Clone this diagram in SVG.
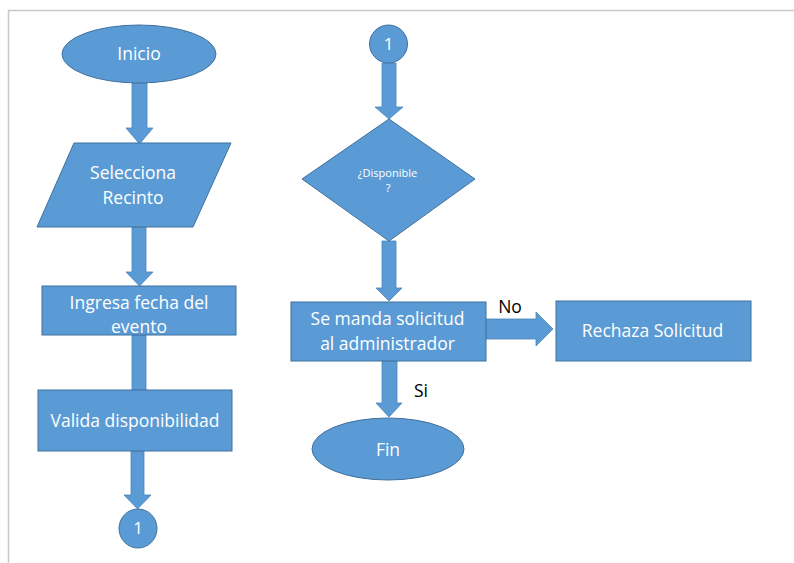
<svg xmlns="http://www.w3.org/2000/svg" width="794" height="563" viewBox="0 0 794 563">
<style>
.s{fill:#5b9bd5;stroke:#41719c;stroke-width:1}
.a{fill:#5b9bd5;stroke:#4a84bb;stroke-width:0.8}
.t{font-family:"Open Sans","Liberation Sans",sans-serif;fill:#ffffff;text-anchor:middle;font-size:17.5px}
.k{font-family:"Open Sans","Liberation Sans",sans-serif;fill:#000000;text-anchor:middle;font-size:17.5px}
.sm{font-size:11px}
.n{font-size:17px}
</style>
<rect x="0" y="0" width="794" height="563" fill="#ffffff"/>
<path d="M8.5 563 V10.5 H794" fill="none" stroke="#c8c8c8" stroke-width="1.5"/>
<g id="connectors">
<polygon class="a" points="132,83 147,83 147,128 153,128 139.5,144 126,128 132,128"/>
<polygon class="a" points="132,227 146,227 146,272 153,272 139.5,286 126,272 132,272"/>
<polygon class="a" points="132,335 146,335 146,390 132,390"/>
<polygon class="a" points="131,451 144,451 144,495 151,495 137.5,509 124,495 131,495"/>
<polygon class="a" points="382,63 396,63 396,107 403,107 389,119 375,107 382,107"/>
<polygon class="a" points="382,241 396,241 396,288 402,288 389,301 376,288 382,288"/>
<polygon class="a" points="382,361 397,361 397,403 402,403 389,417 376,403 382,403"/>
<polygon class="a" points="486,319 536,319 536,312 553,329 536,346 536,339 486,339"/>
<text class="k" x="510" y="313">No</text>
<text class="k" x="421" y="397">Si</text>
</g>
<g id="inicio">
<ellipse class="s" cx="139" cy="54" rx="77" ry="29"/>
<text class="t" x="139" y="60">Inicio</text>
</g>
<g id="selecciona">
<polygon class="s" points="74,143 231,143 193,227 37,227"/>
<text class="t" x="133" y="179">Selecciona</text>
<text class="t" x="133" y="204">Recinto</text>
</g>
<g id="ingresa">
<rect class="s" x="42" y="286" width="194" height="49"/>
<text class="t" x="139" y="309">Ingresa fecha del</text>
<text class="t" x="139" y="333">evento</text>
</g>
<g id="valida">
<rect class="s" x="38" y="390" width="194" height="61"/>
<text class="t" x="135" y="427">Valida disponibilidad</text>
</g>
<g id="conector1a">
<ellipse class="s" cx="138" cy="528.5" rx="19" ry="19.5"/>
<text class="t n" x="138" y="534">1</text>
</g>
<g id="conector1b">
<circle class="s" cx="388.5" cy="44" r="19"/>
<text class="t n" x="388.5" y="50">1</text>
</g>
<g id="disponible">
<polygon class="s" points="389,119 475,179 389,241 302,179"/>
<text class="t sm" x="387.5" y="177">¿Disponible</text>
<text class="t sm" x="388" y="192">?</text>
</g>
<g id="solicitud">
<rect class="s" x="291" y="302" width="195" height="59"/>
<text class="t" x="387.5" y="325">Se manda solicitud</text>
<text class="t" x="387.5" y="350">al administrador</text>
</g>
<g id="rechaza">
<rect class="s" x="556" y="301" width="195" height="60"/>
<text class="t" x="652.5" y="337">Rechaza Solicitud</text>
</g>
<g id="fin">
<ellipse class="s" cx="388" cy="449" rx="76" ry="31"/>
<text class="t" x="388" y="456">Fin</text>
</g>
</svg>
